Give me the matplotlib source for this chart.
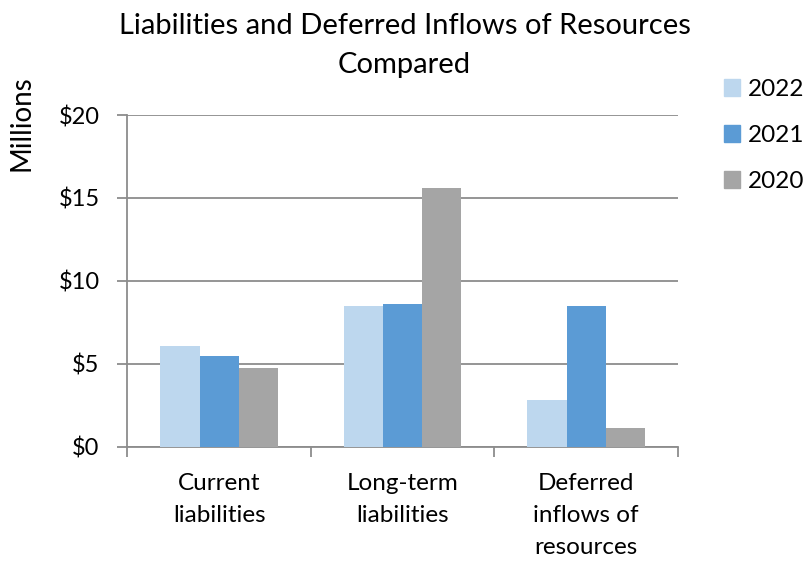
import numpy as np
import matplotlib
matplotlib.use("Agg")
import matplotlib.pyplot as plt
from matplotlib.patches import Patch

# Liabilities by category, in millions of dollars
categorias = ["Current\nliabilities", "Long-term\nliabilities", "Deferred\ninflows of\nresources"]
anios = ["2022", "2021", "2020"]
valores_2022 = [6.05, 8.45, 2.8]
valores_2021 = [5.45, 8.6, 8.45]
valores_2020 = [4.75, 15.6, 1.1]
colores = ["#bdd7ee", "#5b9bd5", "#a5a5a5"]
yticks = [0, 5, 10, 15, 20]

plt.rcParams["font.family"] = ["Lato", "DejaVu Sans"]

fig = plt.figure(figsize=(8.06, 5.61), dpi=100)
ax = fig.add_axes([0.158, 0.204, 0.683, 0.591])

x = np.arange(len(categorias))
ancho = 0.213
series = [valores_2022, valores_2021, valores_2020]
for i, (serie, color) in enumerate(zip(series, colores)):
    ax.bar(x + (i - 1) * ancho, serie, width=ancho, color=color, zorder=3)

ax.set_xlim(-0.5, 2.5)
ax.set_ylim(0, 20)
ax.set_yticks(yticks)
ax.set_yticklabels([f"${v}" for v in yticks], fontsize=17)
ax.grid(True, axis="y", color="#8c8c8c", linewidth=1.3, zorder=0)

# category labels between the boundary tick marks
ax.set_xticks([-0.5, 0.5, 1.5, 2.5])
ax.set_xticklabels([])
ax.set_xticks(x, minor=True)
ax.set_xticklabels(categorias, minor=True, fontsize=17.5, linespacing=1.66)
ax.tick_params(axis="x", which="minor", length=0, pad=19)
ax.tick_params(axis="x", which="major", length=7, color="#8c8c8c", width=1.3)
ax.tick_params(axis="y", length=7, color="#8c8c8c", width=1.3, pad=13)

for lado in ["top", "right"]:
    ax.spines[lado].set_visible(False)
for lado in ["left", "bottom"]:
    ax.spines[lado].set_color("#8c8c8c")
    ax.spines[lado].set_linewidth(1.3)

fig.text(0.502, 0.977, "Liabilities and Deferred Inflows of Resources\nCompared",
         ha="center", va="top", fontsize=21, linespacing=1.6)
fig.text(0.027, 0.78, "Millions", rotation=90, ha="center", va="center", fontsize=20)

handles = [Patch(color=c) for c in colores]
fig.legend(handles, anios, loc="upper left", bbox_to_anchor=(0.898, 0.859),
           frameon=False, fontsize=17.5, handlelength=0.66, handleheight=0.66,
           handletextpad=0.35, labelspacing=1.03, borderpad=0, borderaxespad=0)

fig.savefig("out.png", dpi=100)
